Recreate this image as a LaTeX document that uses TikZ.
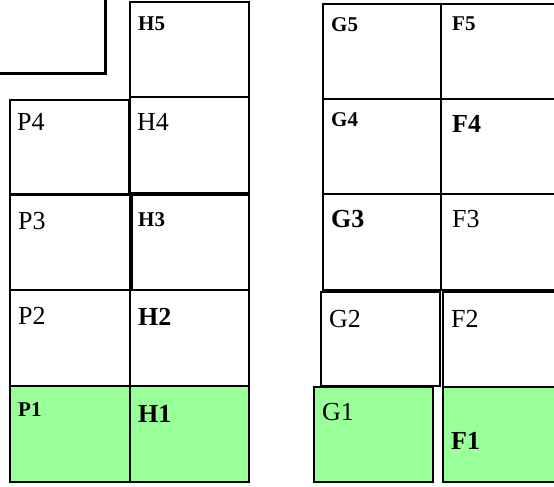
\documentclass[tikz,border=0pt]{standalone}
\usepackage{fontspec}
\setmainfont{Liberation Serif}
\usepackage{xcolor}
\usepackage{tikz}
\usetikzlibrary{positioning}

\definecolor{cellgreen}{HTML}{99FF99}

\begin{document}
\begin{tikzpicture}[x=1pt, y=-1pt,
    cell/.style={draw, rectangle, line width=1.7pt, anchor=north west, inner sep=0pt},
    done/.style={cell, fill=cellgreen},
    lbl/.style={anchor=north west, inner sep=0pt, font=\fontsize{26}{26}\selectfont},
    lblsmall/.style={lbl, font=\fontsize{21}{21}\selectfont\bfseries},
    lblbig/.style={lbl, font=\fontsize{26}{26}\selectfont\bfseries}]
\clip (0,0) rectangle (554,487);
\fill[white] (0,0) rectangle (554,487);

% top left corner box
\node[cell, line width=3pt, minimum width=124pt, minimum height=82pt] (top) at (-20,-10) {};

% H column
\node[cell, minimum width=119pt, minimum height=95pt] (h5) at (129,1) {};
\node[cell, line width=2.2pt, minimum width=119pt, minimum height=96pt] (h4) at (129,96) {};
\node[cell, minimum width=117pt, minimum height=95pt] (h3) at (131,194) {};
\node[cell, minimum width=119pt, minimum height=96pt] (h2) at (129,289) {};
\node[done, minimum width=119pt, minimum height=96pt] (h1) at (129,385) {};

% P column
\node[cell, minimum width=119pt, minimum height=94pt] (p4) at (9,99) {};
\node[cell, minimum width=120pt, minimum height=95pt] (p3) at (9,194) {};
\node[cell, minimum width=120pt, minimum height=96pt] (p2) at (9,289) {};
\node[done, minimum width=120pt, minimum height=96pt] (p1) at (9,385) {};

% G column
\node[cell, minimum width=118pt, minimum height=95pt] (g5) at (322,3) {};
\node[cell, minimum width=118pt, minimum height=95pt] (g4) at (322,98) {};
\node[cell, minimum width=118pt, minimum height=96pt] (g3) at (322,193) {};
\node[cell, minimum width=119pt, minimum height=94pt] (g2) at (320,291) {};
\node[done, minimum width=119pt, minimum height=95pt] (g1) at (313,386) {};

% F column
\node[cell, minimum width=130pt, minimum height=95pt] (f5) at (440,3) {};
\node[cell, minimum width=130pt, minimum height=95pt] (f4) at (440,98) {};
\node[cell, minimum width=130pt, minimum height=96pt] (f3) at (440,193) {};
\node[cell, minimum width=128pt, minimum height=95pt] (f2) at (442,291) {};
\node[done, minimum width=128pt, minimum height=95pt] (f1) at (442,386) {};

% labels
\node[lblsmall] (h5t) at ([shift={(9,16)}]h5.north west) {H5};
\node[lbl] (h4t) at ([shift={(8,17)}]h4.north west) {H4};
\node[lblsmall] (h3t) at ([shift={(7,18)}]h3.north west) {H3};
\node[lblbig] (h2t) at ([shift={(9,19)}]h2.north west) {H2};
\node[lblbig] (h1t) at ([shift={(9,20)}]h1.north west) {H1};
\node[lbl] (p4t) at ([shift={(8,14)}]p4.north west) {P4};
\node[lbl] (p3t) at ([shift={(9,18)}]p3.north west) {P3};
\node[lbl] (p2t) at ([shift={(9,18)}]p2.north west) {P2};
\node[lblsmall] (p1t) at ([shift={(9,17)}]p1.north west) {P1};
\node[lblsmall] (g5t) at ([shift={(9,14)}]g5.north west) {G5};
\node[lblsmall] (g4t) at ([shift={(9,14)}]g4.north west) {G4};
\node[lblbig] (g3t) at ([shift={(9,17)}]g3.north west) {G3};
\node[lbl] (g2t) at ([shift={(9,19)}]g2.north west) {G2};
\node[lbl] (g1t) at ([shift={(9,17)}]g1.north west) {G1};
\node[lblsmall] (f5t) at ([shift={(12,14)}]f5.north west) {F5};
\node[lblbig] (f4t) at ([shift={(12,17)}]f4.north west) {F4};
\node[lbl] (f3t) at ([shift={(12,17)}]f3.north west) {F3};
\node[lbl] (f2t) at ([shift={(9,19)}]f2.north west) {F2};
\node[lblbig] (f1t) at ([shift={(9,46)}]f1.north west) {F1};
\end{tikzpicture}
\end{document}
